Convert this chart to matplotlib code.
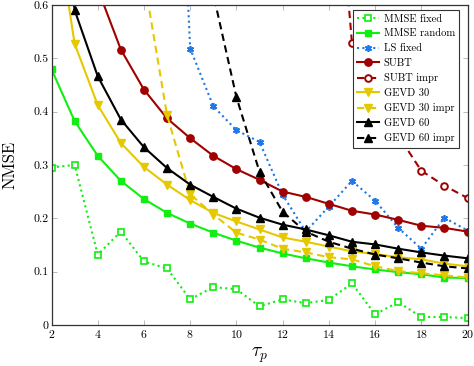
import numpy as np
import matplotlib
matplotlib.use("Agg")
import matplotlib.pyplot as plt

nan = np.nan
tau = list(range(2, 21))

mmse_fixed = [0.295, 0.300, 0.132, 0.175, 0.119, 0.106, 0.048, 0.071, 0.067, 0.035,
              0.048, 0.041, 0.047, 0.078, 0.020, 0.043, 0.015, 0.015, 0.013]
mmse_random = [0.479, 0.382, 0.317, 0.270, 0.236, 0.210, 0.190, 0.173, 0.158, 0.145,
               0.134, 0.125, 0.117, 0.110, 0.104, 0.099, 0.095, 0.089, 0.088]
ls_fixed = [nan, nan, nan, nan, nan, 1.45, 0.518, 0.410, 0.365, 0.343,
            0.244, 0.175, 0.222, 0.270, 0.233, 0.182, 0.143, 0.201, 0.177]
subt = [nan, nan, 0.63, 0.516, 0.441, 0.387, 0.350, 0.317, 0.292, 0.272,
        0.250, 0.240, 0.227, 0.214, 0.207, 0.197, 0.186, 0.182, 0.175]
subt_impr = [nan, nan, nan, nan, nan, nan, nan, nan, nan, nan,
             nan, nan, 1.04, 0.529, 0.43, 0.355, 0.289, 0.261, 0.238]
gevd30 = [0.81, 0.527, 0.412, 0.341, 0.296, 0.263, 0.234, 0.210, 0.194, 0.179,
          0.164, 0.156, 0.147, 0.138, 0.133, 0.127, 0.123, 0.115, 0.110]
gevd30_impr = [nan, nan, nan, nan, 0.65, 0.393, 0.245, 0.207, 0.173, 0.160,
               0.143, 0.136, 0.127, 0.123, 0.110, 0.101, 0.097, 0.093, 0.089]
gevd60 = [0.95, 0.590, 0.466, 0.385, 0.333, 0.294, 0.263, 0.240, 0.218, 0.201,
          0.188, 0.179, 0.168, 0.156, 0.151, 0.143, 0.136, 0.130, 0.125]
gevd60_impr = [nan, nan, nan, nan, nan, nan, nan, 0.62, 0.427, 0.287,
               0.212, 0.175, 0.156, 0.143, 0.132, 0.125, 0.117, 0.110, 0.106]

labels = ["MMSE fixed", "MMSE random", "LS fixed", "SUBT", "SUBT impr",
          "GEVD 30", "GEVD 30 impr", "GEVD 60", "GEVD 60 impr"]

xticks = [2, 4, 6, 8, 10, 12, 14, 16, 18, 20]
yticks = [0, 0.1, 0.2, 0.3, 0.4, 0.5, 0.6]
ytick_labels = ["0", "0.1", "0.2", "0.3", "0.4", "0.5", "0.6"]

plt.rcParams['font.family'] = 'serif'
plt.rcParams['font.serif'] = ['cmr10', 'DejaVu Serif']
plt.rcParams['mathtext.fontset'] = 'cm'
plt.rcParams['axes.formatter.use_mathtext'] = True

green = '#11ee11'
blue = '#1f78e6'
red = '#a00000'
yellow = '#e6c800'
black = '#000000'

dot = (0, (1, 1.6))
dash = (0, (3.5, 2.2))
lw = 1.5

fig = plt.figure(figsize=(4.74, 3.66), dpi=100)
ax = fig.add_axes([0.1087, 0.112, 0.8776, 0.875])

ax.plot(tau, mmse_fixed, color=green, ls=dot, lw=lw, marker='s', ms=4.3,
        mfc='white', mec=green, mew=1.2, label=labels[0])
ax.plot(tau, mmse_random, color=green, ls='-', lw=lw, marker='s', ms=5,
        mfc=green, mec=green, label=labels[1])
ax.plot(tau, ls_fixed, color=blue, ls=dot, lw=lw, marker=(6, 2, 0), ms=5,
        mec=blue, mew=1.2, label=labels[2])
ax.plot(tau, subt, color=red, ls='-', lw=lw, marker='o', ms=5.3,
        mfc=red, mec=red, label=labels[3])
ax.plot(tau, subt_impr, color=red, ls=dash, lw=lw, marker='o', ms=4.8,
        mfc='white', mec=red, mew=1.4, label=labels[4])
ax.plot(tau, gevd30, color=yellow, ls='-', lw=lw, marker='v', ms=5.3,
        mfc=yellow, mec=yellow, label=labels[5])
ax.plot(tau, gevd30_impr, color=yellow, ls=dash, lw=lw, marker='v', ms=5.3,
        mfc=yellow, mec=yellow, label=labels[6])
ax.plot(tau, gevd60, color=black, ls='-', lw=lw, marker='^', ms=5.3,
        mfc=black, mec=black, label=labels[7])
ax.plot(tau, gevd60_impr, color=black, ls=dash, lw=lw, marker='^', ms=5.3,
        mfc=black, mec=black, label=labels[8])

ax.set_xlim(2, 20)
ax.set_ylim(0, 0.6)
ax.set_xticks(xticks)
ax.set_yticks(yticks)
ax.set_yticklabels(ytick_labels)
ax.tick_params(direction='in', length=3.5, width=0.6, color='#b0b0b0',
               labelsize=8.5, top=True, right=True, pad=2)
for s in ax.spines.values():
    s.set_color('#333333')
    s.set_linewidth(0.9)

ax.set_xlabel(r'$\tau_p$', fontsize=14, labelpad=4)
ax.set_ylabel('NMSE', fontsize=12, labelpad=11.5)

leg = ax.legend(loc='upper right', bbox_to_anchor=(0.98, 0.984), borderaxespad=0,
                fontsize=7.6, frameon=True, fancybox=False, framealpha=1,
                edgecolor='#333333', handlelength=2.1, handletextpad=0.4,
                labelspacing=0.5, borderpad=0.4)
leg.get_frame().set_linewidth(0.8)

fig.savefig('out.png', dpi=100)
